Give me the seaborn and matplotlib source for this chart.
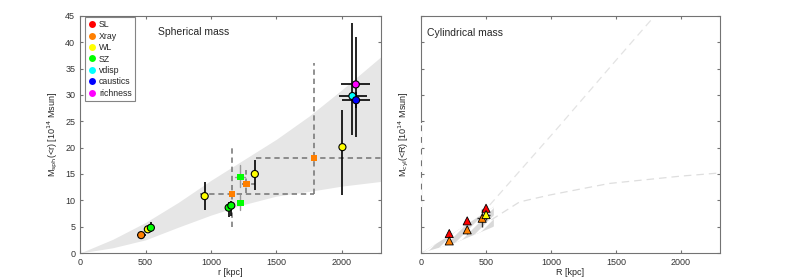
import numpy as np
import pandas as pd
import seaborn as sns
import matplotlib.pyplot as plt
from matplotlib.lines import Line2D

sns.set_style("ticks")
plt.rcParams['font.family'] = ['Liberation Sans', 'DejaVu Sans']
plt.rcParams.update({
    'font.size': 6.5,
    'axes.edgecolor': '0.45',
    'axes.linewidth': 0.8,
    'xtick.direction': 'in', 'ytick.direction': 'in',
    'xtick.top': True, 'ytick.right': True,
    'xtick.color': '0.45', 'ytick.color': '0.45',
    'xtick.labelcolor': '0.2', 'ytick.labelcolor': '0.2',
    'xtick.major.size': 2.5, 'ytick.major.size': 2.5,
    'xtick.labelsize': 6.5, 'ytick.labelsize': 6.5,
    'hatch.linewidth': 2.0,
})

probes = ['SL', 'Xray', 'WL', 'SZ', 'vdisp', 'caustics', 'richness']
colors = ['#ff0000', '#ff7f00', '#ffff00', '#00ff00', '#00ffff', '#0000ff', '#ff00ff']
pal = dict(zip(probes, colors))

# band of the spherical mass profile
band_r = [0, 250, 500, 750, 1000, 1250, 1500, 1750, 2000, 2300]
band_lo = [0, 1.0, 2.5, 4.9, 7.2, 9.2, 10.8, 11.7, 12.7, 13.6]
band_hi = [0, 2.6, 5.8, 9.6, 13.8, 17.7, 21.6, 26.0, 31.0, 37.3]

# spherical mass, circles (solid error bars)
sph_probe = ['Xray', 'WL', 'SZ', 'WL', 'SZ', 'SZ', 'WL', 'WL', 'vdisp', 'richness', 'caustics']
sph_r = [467, 518, 541, 952, 1135, 1155, 1335, 2004, 2080, 2106, 2108]
sph_m = [3.4, 4.5, 4.8, 10.8, 8.6, 9.0, 15.0, 20.1, 29.8, 32.0, 29.0]
sph_r_lo = [432, 493, 531, 952, 1115, 1135, 1335, 2004, 1978, 1996, 1999]
sph_r_hi = [502, 543, 551, 952, 1155, 1175, 1335, 2004, 2188, 2213, 2213]
sph_m_lo = [3.0, 3.9, 3.9, 8.2, 6.8, 7.0, 12.0, 11.0, 22.4, 22.1, 27.5]
sph_m_hi = [3.8, 5.1, 5.8, 13.5, 9.6, 9.9, 17.7, 27.2, 43.7, 41.1, 30.5]

# spherical mass, squares
sq_probe = ['Xray', 'Xray', 'Xray', 'SZ', 'SZ']
sq_r = [1161, 1271, 1786, 1225, 1225]
sq_m = [11.2, 13.1, 18.1, 14.5, 9.5]
sq_r_lo = [913, 1238, 1345, 1187, 1225]
sq_r_hi = [1786, 1340, 2320, 1263, 1225]
sq_m_lo = [4.9, 11.4, 11.2, 12.5, 8.2]
sq_m_hi = [20.1, 15.8, 36.0, 16.7, 11.0]

# cylindrical mass, triangles
cyl_probe = ['SL', 'SL', 'SL', 'Xray', 'Xray', 'Xray', 'WL']
cyl_r = [217, 355, 500, 217, 355, 470, 500]
cyl_m = [3.7, 6.1, 8.5, 2.3, 4.4, 6.6, 7.3]
cyl_r_err = [0, 0, 0, 0, 0, 40, 30]
cyl_m_err = [0.5, 0.6, 0.6, 0.3, 0.7, 1.7, 1.0]

# cylindrical model curves
cband_r = [0, 250, 560]
cband_lo = [0, 1.8, 5.0]
cband_hi = [0, 3.8, 8.8]
cline_r = [528, 1039, 1500, 1800]
cline_m = [9.1, 23.4, 36.6, 45.1]
ccurve_r = [541, 758, 988, 1447, 2000, 2300]
ccurve_m = [6.3, 9.7, 11.0, 13.2, 14.6, 15.2]

fig = plt.figure(figsize=(8.02, 2.8), dpi=100)
ax1 = fig.add_axes([0.0998, 0.0964, 0.3755, 0.8466])
ax2 = fig.add_axes([0.525, 0.0964, 0.3728, 0.8466])

# ---- spherical panel
ax1.fill_between(band_r, band_lo, band_hi, color='#e6e6e6', lw=0, zorder=1)

sq = pd.DataFrame({'probe': sq_probe, 'r': sq_r, 'M': sq_m})
for i in range(len(sq_r)):
    if sq_probe[i] == 'Xray':
        kw = dict(color='0.45', lw=1.1, ls=(0, (3.5, 2.5)))
    else:
        kw = dict(color='0.6', lw=1.0, ls='-')
    ax1.plot([sq_r_lo[i], sq_r_hi[i]], [sq_m[i], sq_m[i]], zorder=2, **kw)
    ax1.plot([sq_r[i], sq_r[i]], [sq_m_lo[i], sq_m_hi[i]], zorder=2, **kw)
sns.scatterplot(data=sq, x='r', y='M', hue='probe', palette=pal, marker='s',
                s=20, linewidth=0, legend=False, zorder=4, ax=ax1)

sph = pd.DataFrame({'probe': sph_probe, 'r': sph_r, 'M': sph_m})
xerr = [np.array(sph_r) - np.array(sph_r_lo), np.array(sph_r_hi) - np.array(sph_r)]
yerr = [np.array(sph_m) - np.array(sph_m_lo), np.array(sph_m_hi) - np.array(sph_m)]
ax1.errorbar(sph_r, sph_m, xerr=xerr, yerr=yerr, fmt='none', ecolor='black',
             elinewidth=1.2, capsize=0, zorder=3)
sns.scatterplot(data=sph, x='r', y='M', hue='probe', palette=pal, marker='o',
                s=26, edgecolor='black', linewidth=0.8, legend=False, zorder=5, ax=ax1)

ax1.set_xlim(0, 2300)
ax1.set_ylim(0, 45)
ax1.set_xticks([0, 500, 1000, 1500, 2000])
ax1.set_yticks(range(0, 46, 5))
ax1.set_xlabel('r [kpc]', fontsize=6.5, labelpad=1)
ax1.set_ylabel('M$_{\\rm sph}$(<r) [10$^{14}$ Msun]', fontsize=6.5, labelpad=4)
ax1.text(0.259, 0.932, 'Spherical mass', transform=ax1.transAxes, fontsize=7.5,
         va='center', ha='left')

handles = [Line2D([], [], marker='o', ls='none', color=c, mec='none', ms=5)
           for c in colors]
leg = ax1.legend(handles, probes, loc='upper left', bbox_to_anchor=(0.018, 0.995),
                 fontsize=6.3, frameon=True, fancybox=False, handlelength=0.8,
                 handletextpad=0.4, labelspacing=0.28, borderpad=0.35,
                 borderaxespad=0)
leg.get_frame().set_edgecolor('0.4')
leg.get_frame().set_linewidth(0.8)

# ---- cylindrical panel
ax2.fill_between(cband_r, cband_lo, cband_hi, facecolor='#d9d9d9', edgecolor='white',
                 hatch='///', lw=0, zorder=1)
ax2.plot(cline_r, cline_m, color='#e3e3e3', lw=0.9, ls=(0, (6, 4)), zorder=1)
ax2.plot(ccurve_r, ccurve_m, color='#dedede', lw=0.9, ls=(0, (6, 4)), zorder=1)

ax2.errorbar(cyl_r, cyl_m, xerr=cyl_r_err, yerr=cyl_m_err, fmt='none',
             ecolor='0.2', elinewidth=1.0, capsize=0, zorder=3)
cyl = pd.DataFrame({'probe': cyl_probe, 'R': cyl_r, 'M': cyl_m})
sns.scatterplot(data=cyl, x='R', y='M', hue='probe', palette=pal, marker='^',
                s=34, edgecolor='black', linewidth=0.6, legend=False, zorder=5, ax=ax2)

ax2.set_xlim(0, 2300)
ax2.set_ylim(0, 45)
ax2.set_xticks([0, 500, 1000, 1500, 2000])
ax2.set_yticks(range(0, 46, 5))
ax2.set_yticklabels([])
ax2.set_xlabel('R [kpc]', fontsize=6.5, labelpad=1)
ax2.set_ylabel('M$_{\\rm cyl}$(<R) [10$^{14}$ Msun]', fontsize=6.5, labelpad=4)
ax2.text(0.02, 0.928, 'Cylindrical mass', transform=ax2.transAxes, fontsize=7.5,
         va='center', ha='left')
ax2.plot([0, 0], [8.7, 24.7], color='white', lw=1.4, ls=(0, (3, 3)),
         clip_on=False, zorder=10)

fig.savefig('out.png', dpi=100)
